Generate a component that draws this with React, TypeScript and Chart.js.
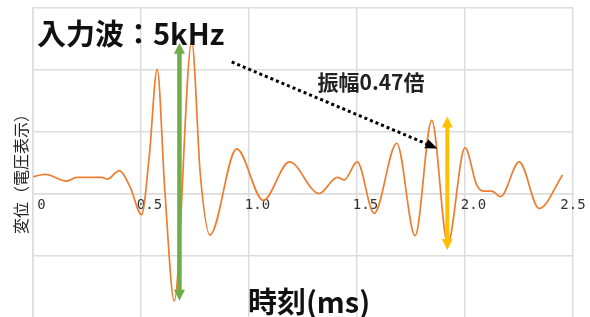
import React, { useEffect, useRef } from "react";
import { Chart, registerables } from "chart.js";

Chart.register(...registerables);

// ---- data (time in ms, displacement in voltage units) ----
const times = [
  0.0, 0.056, 0.156, 0.202, 0.318, 0.344, 0.4, 0.449, 0.503, 0.538, 0.575, 0.611, 0.654,
  0.735, 0.775, 0.819, 0.943, 1.066, 1.187, 1.324, 1.409, 1.441, 1.501, 1.579, 1.684,
  1.769, 1.846, 1.92, 2.0, 2.054, 2.085, 2.124, 2.165, 2.251, 2.343, 2.452,
];
const values = [
  0.28, 0.32, 0.21, 0.27, 0.27, 0.24, 0.38, 0.12, -0.33, 0.6, 2.01, 0.02, -1.72,
  2.46, 0.3, -0.66, 0.73, -0.1, 0.52, 0.01, 0.27, 0.23, 0.52, -0.31, 0.82,
  -0.67, 1.19, -0.79, 0.75, 0.15, 0.05, 0.05, -0.04, 0.52, -0.23, 0.31,
];
const xTickValues = [0, 0.5, 1.0, 1.5, 2.0, 2.5];
const yMax = 3;
const yMin = -1.98;

const chartTitle = "入力波：5kHz";
const xTitle = "時刻(ms)";
const yTitle = "変位（電圧表示）　  ";
const ratioLabel = "振幅0.47倍";

// annotation anchors in data coordinates: [time, top value, bottom value]
const inputArrow = [0.678, 2.44, -1.72];
const outputArrow = [1.918, 1.25, -0.9];
// dotted pointer: [time, value]
const pointerFrom = [0.92, 2.13];
const pointerTo = [1.872, 0.737];

const CJK = '"Noto Sans CJK JP", "Noto Sans", sans-serif';

function drawDoubleArrow(ctx: CanvasRenderingContext2D, x: number, yTop: number, yBot: number, color: string, width: number) {
  const head = 11;
  const half = 5.5;
  ctx.save();
  ctx.strokeStyle = color;
  ctx.fillStyle = color;
  ctx.lineWidth = width;
  ctx.beginPath();
  ctx.moveTo(x, yTop + head - 1);
  ctx.lineTo(x, yBot - head + 1);
  ctx.stroke();
  ctx.beginPath();
  ctx.moveTo(x, yTop);
  ctx.lineTo(x - half, yTop + head);
  ctx.lineTo(x + half, yTop + head);
  ctx.closePath();
  ctx.fill();
  ctx.beginPath();
  ctx.moveTo(x, yBot);
  ctx.lineTo(x - half, yBot - head);
  ctx.lineTo(x + half, yBot - head);
  ctx.closePath();
  ctx.fill();
  ctx.restore();
}

function drawDottedArrow(ctx: CanvasRenderingContext2D, x1: number, y1: number, x2: number, y2: number) {
  const head = 12;
  const half = 5;
  const a = Math.atan2(y2 - y1, x2 - x1);
  const ex = x2 - Math.cos(a) * head;
  const ey = y2 - Math.sin(a) * head;
  ctx.save();
  ctx.strokeStyle = "#000";
  ctx.fillStyle = "#000";
  ctx.lineWidth = 3;
  ctx.lineCap = "butt";
  ctx.setLineDash([3, 3]);
  ctx.beginPath();
  ctx.moveTo(x1, y1);
  ctx.lineTo(ex, ey);
  ctx.stroke();
  ctx.setLineDash([]);
  ctx.beginPath();
  ctx.moveTo(x2, y2);
  ctx.lineTo(ex - Math.sin(a) * half, ey + Math.cos(a) * half);
  ctx.lineTo(ex + Math.sin(a) * half, ey - Math.cos(a) * half);
  ctx.closePath();
  ctx.fill();
  ctx.restore();
}

const overlayPlugin = {
  id: "overlay",
  afterDatasetsDraw(chart: any) {
    const ctx: CanvasRenderingContext2D = chart.ctx;
    const xs = chart.scales.x;
    const ys = chart.scales.y;
    drawDoubleArrow(ctx, xs.getPixelForValue(inputArrow[0]), ys.getPixelForValue(inputArrow[1]), ys.getPixelForValue(inputArrow[2]), "#70AD47", 4.5);
    drawDoubleArrow(ctx, xs.getPixelForValue(outputArrow[0]), ys.getPixelForValue(outputArrow[1]), ys.getPixelForValue(outputArrow[2]), "#FFC000", 4);
    drawDottedArrow(
      ctx,
      xs.getPixelForValue(pointerFrom[0]),
      ys.getPixelForValue(pointerFrom[1]),
      xs.getPixelForValue(pointerTo[0]),
      ys.getPixelForValue(pointerTo[1])
    );
  },
  afterDraw(chart: any) {
    const ctx: CanvasRenderingContext2D = chart.ctx;
    ctx.save();
    ctx.fillStyle = "#111";
    ctx.textBaseline = "middle";
    ctx.textAlign = "left";
    ctx.font = `bold 29px ${CJK}`;
    ctx.fillText(chartTitle, 37, 34);
    ctx.textAlign = "center";
    ctx.font = `bold 21px ${CJK}`;
    ctx.fillStyle = "#222";
    ctx.fillText(ratioLabel, 371, 82);
    ctx.font = `bold 29px ${CJK}`;
    ctx.fillStyle = "#111";
    ctx.fillText(xTitle, 309, 302);
    ctx.restore();
  },
};

export default function App() {
  const ref = useRef<HTMLCanvasElement | null>(null);
  useEffect(() => {
    if (!ref.current) return;
    const points = times.map((t, i) => ({ x: t, y: values[i] }));
    const grid = "#DCDCDC";
    const chart = new Chart(ref.current, {
      type: "line",
      data: {
        datasets: [
          {
            data: points,
            borderColor: "#ED7D31",
            borderWidth: 1.7,
            pointRadius: 0,
            cubicInterpolationMode: "monotone",
            fill: false,
          },
        ],
      },
      options: {
        animation: false,
        responsive: false,
        maintainAspectRatio: false,
        layout: { padding: { top: 8, right: 17, left: 0, bottom: 0 } },
        plugins: { legend: { display: false }, tooltip: { enabled: false }, title: { display: false } },
        scales: {
          x: {
            type: "linear",
            position: { y: 0 } as any,
            min: 0,
            max: 2.5,
            afterBuildTicks: (axis: any) => {
              axis.ticks = xTickValues.map((v) => ({ value: v }));
            },
            ticks: {
              stepSize: 0.5,
              autoSkip: false,
              maxRotation: 0,
              padding: 3,
              color: "#333",
              font: { family: '"DejaVu Sans Mono", monospace', size: 14 },
              callback: (v: any) => {
                const n = Number(v);
                if (n === 0) return "  0";
                const s = n.toFixed(1);
                return n === 2.5 ? s : "  " + s;
              },
            },
            grid: { color: grid, lineWidth: 1.5, drawTicks: false },
            border: { color: grid, width: 1.5 },
          },
          y: {
            type: "linear",
            min: yMin,
            max: yMax,
            afterBuildTicks: (axis: any) => {
              axis.ticks = axis.ticks.filter((t: any) => Number.isInteger(t.value));
            },
            ticks: { display: false, stepSize: 1 },
            grid: { color: grid, lineWidth: 1.5, drawTicks: false },
            border: { color: grid, width: 1.5 },
            title: {
              display: true,
              text: yTitle,
              color: "#222",
              font: { family: CJK, size: 16 },
              padding: { top: 11.4, bottom: 2.4 },
            },
          },
        },
      },
      plugins: [overlayPlugin],
    });
    return () => chart.destroy();
  }, []);
  return (
    <div style={{ position: "absolute", left: 0, top: 0, width: 590, height: 317, background: "#fff" }}>
      <canvas ref={ref} width={590} height={317} />
    </div>
  );
}
